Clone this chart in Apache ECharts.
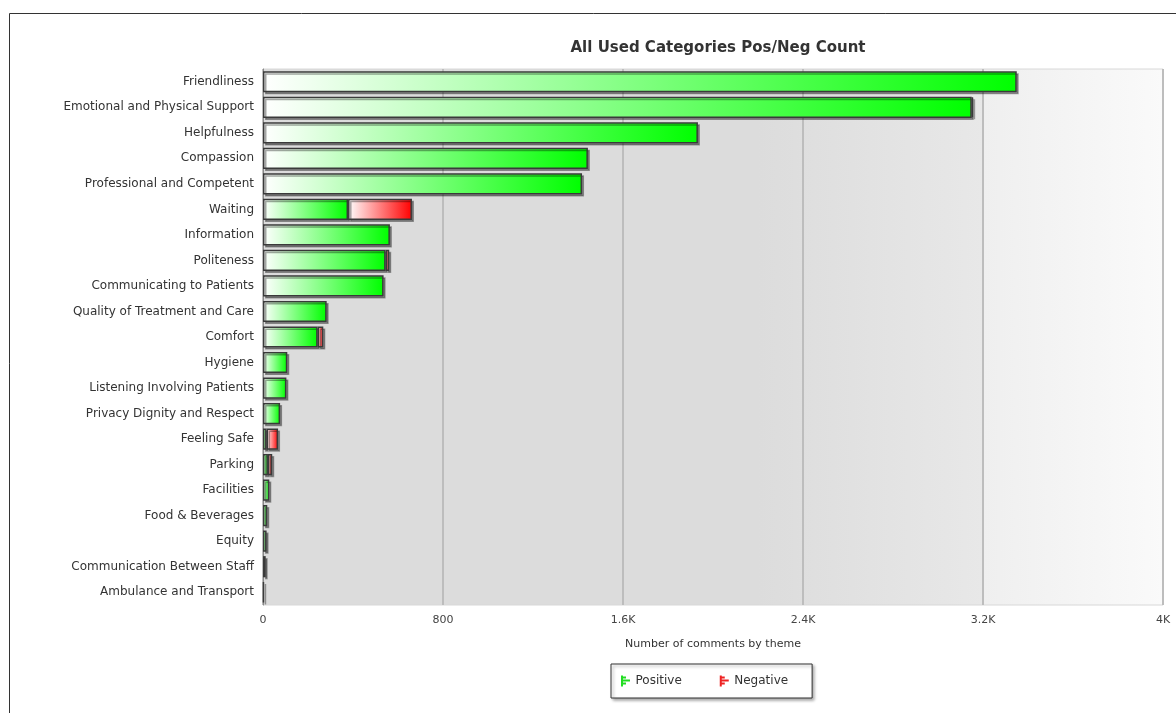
<!DOCTYPE html>
<html><head><meta charset="utf-8">
<script src="https://cdn.jsdelivr.net/npm/echarts@6/dist/echarts.min.js"></script>
<style>html,body{margin:0;padding:0;background:#fff}#c{width:1176px;height:713px}</style>
</head><body><div id="c"></div>
<script>
const categories = ["Friendliness","Emotional and Physical Support","Helpfulness","Compassion","Professional and Competent","Waiting","Information","Politeness","Communicating to Patients","Quality of Treatment and Care","Comfort","Hygiene","Listening Involving Patients","Privacy Dignity and Respect","Feeling Safe","Parking","Facilities","Food & Beverages","Equity","Communication Between Staff","Ambulance and Transport"];
const positive = [3350,3150,1933,1444,1418,378,564,545,536,283,243,108,104,76,16,22,28,19,16,12,4];
const negative = [0,6,0,0,0,284,0,16,0,0,25,0,0,0,51,19,0,0,0,0,0];
const tickLabels = {0:"0",800:"800",1600:"1.6K",2400:"2.4K",3200:"3.2K",4000:"4K"};

const font = "DejaVu Sans";
const chart = echarts.init(document.getElementById('c'), null, {renderer:'canvas'});
function grad(c){return new echarts.graphic.LinearGradient(0,0,1,0,[{offset:0,color:'#ffffff'},{offset:1,color:c}]);}
const icon = 'path://M0,0H2V11H0Z M2,1H5V3H2Z M2,4H9V6H2Z M2,7H5V9H2Z';
const barStyle = c => ({color:grad(c),borderColor:'#3a3a3a',borderWidth:1.5,
  shadowColor:'rgba(0,0,0,0.35)',shadowOffsetX:2,shadowOffsetY:2,shadowBlur:0});
chart.setOption({
  animation:false,
  title:{text:'All Used Categories Pos/Neg Count',left:713,textAlign:'center',top:36,
    textStyle:{fontFamily:font,fontSize:15,fontWeight:'bold',color:'#333'}},
  grid:{left:263,right:13,top:69,bottom:108,show:true,borderColor:'#d8d8d8',borderWidth:1,
    backgroundColor:new echarts.graphic.LinearGradient(0,0,1,0,[
      {offset:0,color:'#dcdcdc'},{offset:0.55,color:'#dcdcdc'},{offset:0.8,color:'#e8e8e8'},
      {offset:0.8,color:'#efefef'},{offset:1,color:'#fafafa'}])},
  legend:{top:664,left:611,itemGap:38,padding:[11,24,11,10],borderColor:'#333',borderWidth:1,
    backgroundColor:'#fff',shadowColor:'rgba(0,0,0,0.35)',shadowBlur:3,shadowOffsetX:2,shadowOffsetY:2,
    itemWidth:10,itemHeight:11,
    textStyle:{fontFamily:font,fontSize:12,color:'#333'},
    data:[{name:'Positive',icon:icon,itemStyle:{color:'#22dd22',borderWidth:0}},{name:'Negative',icon:icon,itemStyle:{color:'#ee2222',borderWidth:0}}]},
  xAxis:{type:'value',min:0,max:4000,interval:800,
    name:'Number of comments by theme',nameLocation:'middle',nameGap:34,
    nameTextStyle:{fontFamily:font,fontSize:11,color:'#333'},
    axisLine:{show:false},axisTick:{show:false},
    axisLabel:{fontFamily:font,fontSize:11,color:'#444',margin:10,formatter:v=>tickLabels[v]!==undefined?tickLabels[v]:''},
    splitLine:{show:true,lineStyle:{color:'#bdbdbd',width:2}}},
  yAxis:{type:'category',data:categories,inverse:true,
    axisLine:{show:true,lineStyle:{color:'#888'}},axisTick:{show:false},
    axisLabel:{fontFamily:font,fontSize:12,color:'#333',margin:9}},
  series:[
    {name:'Positive',type:'bar',stack:'a',data:positive.map(v=>v>0?v:null),barCategoryGap:'17%',itemStyle:barStyle('#00ff00')},
    {name:'Negative',type:'bar',stack:'a',data:negative.map(v=>v>0?v:null),itemStyle:barStyle('#ff0000')}
  ],
  graphic:[{type:'rect',left:7,top:11,shape:{width:1200,height:720},silent:true,z:-1,
    style:{fill:'none',stroke:'#333',lineWidth:1}}]
});
</script></body></html>
